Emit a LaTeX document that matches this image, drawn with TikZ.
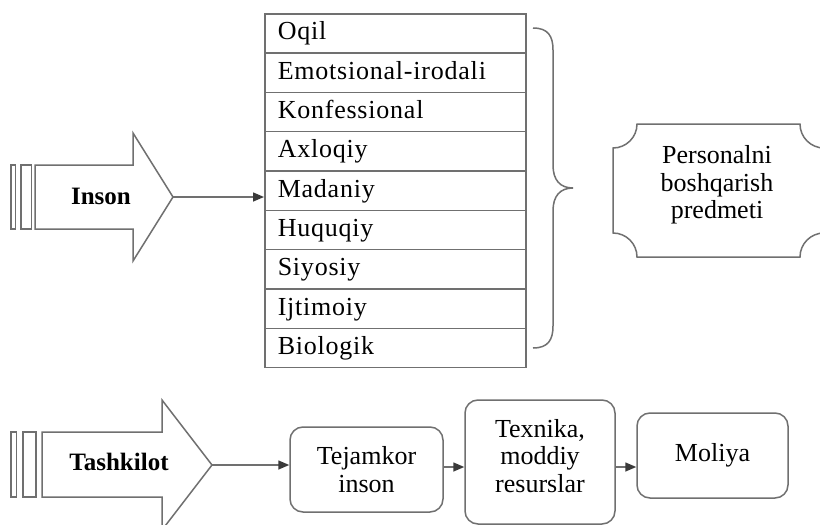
\documentclass[tikz,border=0pt]{standalone}
\usepackage{fontspec}
\setmainfont{Liberation Serif}
\newfontfamily\cellfont[LetterSpace=3]{Liberation Serif}
\usetikzlibrary{arrows.meta}
\definecolor{linegray}{HTML}{707070}
\definecolor{tipgray}{HTML}{3A3A3A}
\begin{document}
\begin{tikzpicture}[x=1pt,y=-1pt,
  outline/.style={draw=linegray, line width=1.5pt, line join=miter},
  conn/.style={draw=linegray, line width=1.5pt,
    -{Triangle[length=11pt,width=9pt,color=tipgray]}},
  cell/.style={outline, anchor=north west, minimum width=261pt,
    minimum height=39.33pt, text width=235pt, align=left, inner sep=0pt,
    text height=18pt, text depth=5pt, font=\cellfont\fontsize{26}{27}\selectfont},
  bigword/.style={font=\bfseries\fontsize{25}{27}\selectfont, inner sep=0pt},
  plain/.style={font=\fontsize{26}{27.5}\selectfont, align=center, inner sep=0pt},
  rbox/.style={outline, rounded corners=13pt, font=\fontsize{26}{27.5}\selectfont,
    align=center, inner sep=0pt}]

% canvas
\fill[white] (0,0) rectangle (820,525);
\useasboundingbox (0,0) rectangle (820,525);

% list of aspects
\foreach \t [count=\i from 0] in {Oqil, Emotsional-irodali, Konfessional, Axloqiy,
  Madaniy, Huquqiy, Siyosiy, Ijtimoiy, Biologik}
  \node[cell] (r\i) at (264,{13+\i*39.33}) {\t};

% upper block arrow "Inson"
\draw[outline] (35,165) -- (133,165) -- (133,133) -- (173,197) -- (133,261)
  -- (133,229) -- (35,229) -- cycle;
\draw[outline] (11,165) rectangle (15.5,229);
\draw[outline] (21,165) rectangle (31.5,229);
\node[bigword] (inson) at (101,196) {Inson};
\coordinate (insontip) at (173,197);
\draw[conn] (insontip) -- (insontip -| r4.west);

% curly brace
\draw[outline] (533,28) .. controls (548,28) and (553,36) .. (553,50)
  -- (553,165) .. controls (553,180) and (560,188) .. (573,188)
  .. controls (560,188) and (553,196) .. (553,211)
  -- (553,326) .. controls (553,340) and (548,348) .. (533,348);

% subject box with concave corners
\draw[outline] (637,124) -- (800,124)
  .. controls (800,137.25) and (810.75,148) .. (824,148) -- (824,233)
  .. controls (810.75,233) and (800,243.75) .. (800,257) -- (637,257)
  .. controls (637,243.75) and (626.25,233) .. (613,233) -- (613,148)
  .. controls (626.25,148) and (637,137.25) .. (637,124) -- cycle;
\node[plain] (subject) at (717,185) {Personalni\\boshqarish\\predmeti};

% lower block arrow "Tashkilot"
\draw[outline] (42,432) -- (162,432) -- (162,400) -- (212,465) -- (162,530)
  -- (162,497) -- (42,497) -- cycle;
\draw[outline] (11,432) rectangle (16.5,497);
\draw[outline] (23,432) rectangle (36,497);
\node[bigword] (tash) at (119,462) {Tashkilot};
\coordinate (tashtip) at (212,465);

% resource chain
\node[rbox, minimum width=153pt, minimum height=85pt] (b1) at (366.5,469.5) {Tejamkor\\inson};
\node[rbox, minimum width=150pt, minimum height=124pt] (b2) at (540,462) {};
\node[plain] (b2text) at (540,456) {Texnika,\\moddiy\\resurslar};
\node[rbox, minimum width=151pt, minimum height=85pt] (b3) at (712.5,455.5) {Moliya};

\draw[conn] (tashtip) -- (tashtip -| b1.west);
\draw[conn] (b1.east |- 0,467) -- (b2.west |- 0,467);
\draw[conn] (b2.east |- 0,467) -- (b3.west |- 0,467);
\end{tikzpicture}
\end{document}
